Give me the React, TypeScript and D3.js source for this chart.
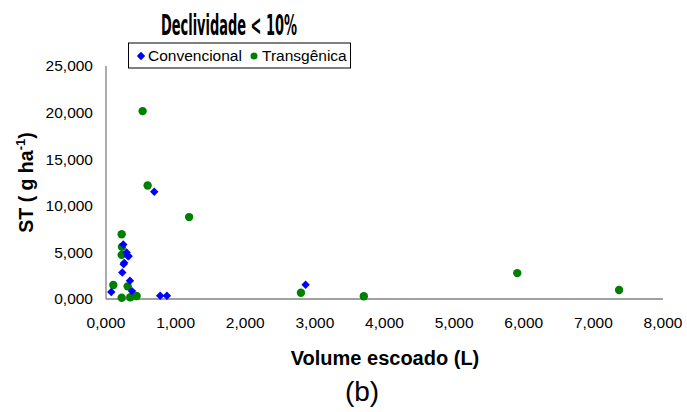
import React from "react";
import * as d3 from "d3";

const xTicks = [0, 1000, 2000, 3000, 4000, 5000, 6000, 7000, 8000];
const yTicks = [0, 5000, 10000, 15000, 20000, 25000];

const convX = [693, 248, 296, 311, 325, 262, 253, 234, 344, 76, 373, 778, 875, 2867];
const convY = [11500, 5840, 4990, 4630, 4594, 3880, 3740, 2850, 1955, 750, 850, 350, 350, 1530];

const transX = [526, 598, 1194, 225, 229, 225, 105, 311, 225, 349, 440, 2800, 3703, 5907, 7369];
const transY = [20160, 12180, 8790, 6944, 5590, 4735, 1496, 1357, 139, 180, 320, 673, 288, 2778, 962];

const fmt = (v: number) => d3.format(",")(v / 1000) + ",000";

export default function App() {
  const W = 687, H = 412;
  const x = d3.scaleLinear().domain([0, 8000]).range([106, 663]);
  const y = d3.scaleLinear().domain([0, 25000]).range([299, 66]);
  const font = "Arial, 'Liberation Sans', sans-serif";
  const diamond = d3.symbol().type(d3.symbolDiamond2).size(45)() as string;
  return (
    <svg width={W} height={H} style={{ position: "absolute", left: 0, top: 0 }} fontFamily={font}>
      <rect width={W} height={H} fill="#fff" />
      <line x1={x(0)} x2={x(0)} y1={y(25000)} y2={y(0)} stroke="#808080" strokeWidth={1.3} />
      <line x1={x(0)} x2={x(8000)} y1={y(0)} y2={y(0)} stroke="#808080" strokeWidth={1.3} />
      {yTicks.map((t) => (
        <text key={t} x={93} y={y(t)} dy="0.35em" textAnchor="end" fontSize={15.5} fill="#000">
          {fmt(t)}
        </text>
      ))}
      {xTicks.map((t) => (
        <text key={t} x={x(t)} y={322.5} dy="0.35em" textAnchor="middle" fontSize={15.5} fill="#000">
          {fmt(t)}
        </text>
      ))}
      <text transform={`translate(33,${(y(0) + y(25000)) / 2}) rotate(-90)`} textAnchor="middle" fontSize={19.5} fontWeight="bold" fill="#000">
        ST ( g ha<tspan dy={-8} fontSize={13}>-1</tspan><tspan dy={8}>)</tspan>
      </text>
      <text x={385} y={365} textAnchor="middle" fontSize={20} fontWeight="bold" fill="#000">
        Volume escoado (L)
      </text>
      <text x={362} y={401} textAnchor="middle" fontSize={28} fill="#000">(b)</text>
      <text x={229} y={35} textAnchor="middle" fontSize={28} fontWeight="bold" fontFamily="'Liberation Sans Narrow', 'DejaVu Sans Condensed', sans-serif" textLength={136} lengthAdjust="spacingAndGlyphs" fill="#000">
        Declividade &lt; 10%
      </text>
      <rect x={128.5} y={43} width={222} height={25} fill="#fff" stroke="#000" strokeWidth={1} />
      <path d={diamond} transform="translate(141,56)" fill="#0000ff" />
      <text x={148} y={56} dy="0.35em" fontSize={15.5} fill="#000">Convencional</text>
      <circle cx={254} cy={56} r={3.5} fill="#008000" />
      <text x={262} y={56} dy="0.35em" fontSize={15.5} fill="#000">Transgênica</text>
      {transX.map((v, i) => (
        <circle key={"t" + i} cx={x(v)} cy={y(transY[i])} r={4.2} fill="#008000" />
      ))}
      {convX.map((v, i) => (
        <path key={"c" + i} d={diamond} transform={`translate(${x(v)},${y(convY[i])})`} fill="#0000ff" />
      ))}
    </svg>
  );
}
